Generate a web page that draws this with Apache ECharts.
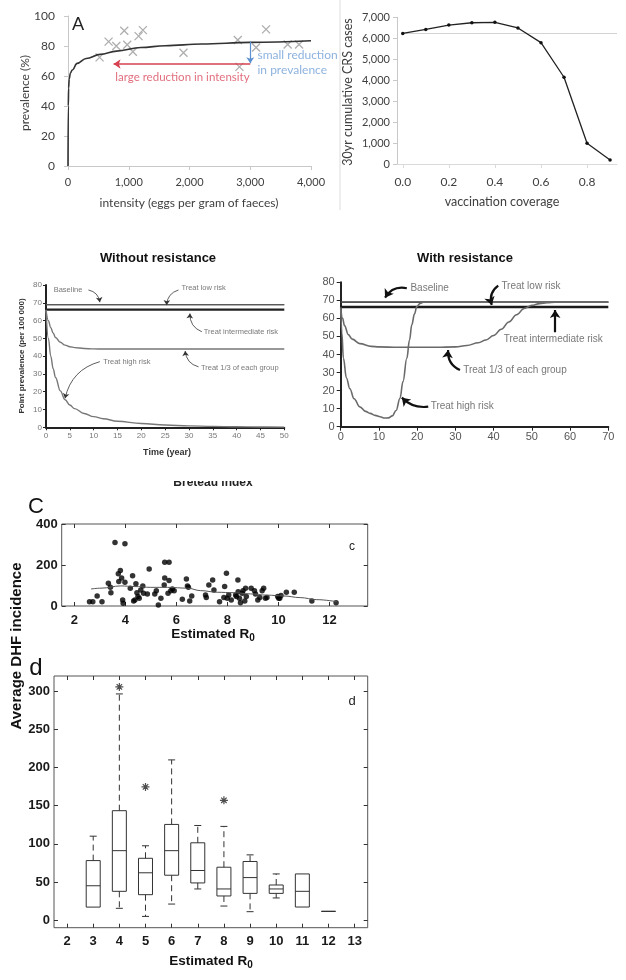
<!DOCTYPE html>
<html><head><meta charset="utf-8">
<script src="https://cdn.jsdelivr.net/npm/echarts@6/dist/echarts.min.js"></script>
<style>html,body{margin:0;padding:0;background:#fff}#c{width:626px;height:980px}</style>
</head><body><div id="c"></div>
<script>
// ---------- Panel A : prevalence vs intensity ----------
const aPointsX = [520,668,795,926,975,1068,1162,1233,1901,2795,2822,3096,3260,3616,3803];
const aPointsY = [72.4,82.9,80,90.2,80.8,76.2,86.6,90.6,75.5,84,66.1,79,91.1,81,81];
const aCurveX = [0,5,10,20,40,70,150,300,530,800,1200,1600,2200,3000,4000];
const aCurveY = [0,40,52,58,62,64,68.4,71.7,74.4,76.6,79,80.2,81.3,82.4,83.5];
// ---------- Panel B : CRS cases vs coverage ----------
const bCoverage = [0,0.1,0.2,0.3,0.4,0.5,0.6,0.7,0.8,0.9];
const bCases = [6230,6420,6630,6740,6760,6490,5790,4140,990,190];
const bRef = 6230;
// ---------- Without resistance ----------
const woLevelT = [0,50];
const woBaseline = [69,69];
const woLowRisk = [68.8,68.8];
const woInterRisk = [66.2,66.2];
const woT = [0,0.5,1,1.5,2,3,4,5,6,8,10,12,15,20,25,30,35,40,45,50];
const woThird = [66,60,56,53,50.5,47.8,46.2,45.3,44.8,44.3,44.1,44,44,44,44,44,44,44,44,44];
const woHigh = [66,50,40,33,28,20.5,15.5,12.5,10.5,7.8,6,4.8,3.4,2.1,1.3,0.8,0.5,0.3,0.2,0.1];
// ---------- With resistance ----------
const wLevelT = [0,70];
const wBaseline = [69.2,69.2];
const wLowRisk = [68.9,68.9];
const wInterRisk = [66.3,66.3];
const wThirdT = [0,0.5,1,2,3,5,8,10,15,20,25,30,33,36,38,40,42,44,46,48,50,52,54,56,60,70];
const wThird = [66,60,56,51,48.5,46,44.5,44.2,44,44,44,44.2,45,46.5,48,50.5,54,58,62,65.5,67.2,68.2,68.7,69,69,69];
const wHighT = [0,0.3,0.7,1.5,2.4,3.5,5,6.5,7.7,9,10.3,11.5,12.5,13.5,14.5,15.5,16.3,17.3,18,18.6,19.3,19.9,20.8,21.6,23,25,70];
const wHigh = [66,52,38,27,21,15.5,11,8.5,7.4,6.3,5.5,4.8,4.9,6,9,15.7,25,37.9,48,56.4,62.5,66.5,68.3,69,69,69,69];
// ---------- Panel c : scatter ----------
const cR0 = [2.59,2.72,2.89,3.08,3.33,3.41,3.43,3.59,3.72,3.80,3.74,3.85,3.89,3.91,3.98,3.98,4.19,4.28,4.32,4.37,4.41,4.45,4.49,4.54,4.60,4.68,4.71,4.86,4.93,5.15,5.21,5.29,5.39,5.52,5.54,5.54,5.71,5.71,5.67,5.78,5.84,5.91,6.23,6.39,6.43,6.47,6.52,6.60,7.14,7.17,7.27,7.42,7.47,7.69,7.86,7.89,7.96,7.99,8.05,8.15,8.32,8.35,8.41,8.42,8.47,8.51,8.58,8.61,8.68,8.71,8.74,8.93,9.06,9.10,9.19,9.27,9.36,9.42,9.49,9.55,9.97,10.01,10.05,10.10,10.31,10.62,11.31,12.26];
const cInc = [21,21,49,21,111,91,65,310,157,173,119,136,29,13,116,304,87,147,24,29,108,65,46,38,78,98,62,59,181,59,75,5,38,103,214,136,214,124,62,75,83,75,33,132,98,91,24,49,54,42,103,127,78,21,42,95,160,38,54,29,54,46,127,70,38,16,62,75,24,87,46,87,75,59,29,42,75,87,38,42,46,38,38,51,67,67,24,16];
const cFitX = [2.65,3.04,3.82,4.34,4.99,5.65,6.43,6.95,7.6,8.25,8.9,9.55,10.2,10.85,11.5,12.29];
const cFitY = [83,87,98,95,91,91,87,75,67,65,59,53,49,41,31,21];
const cTicksX = [2,4,6,8,10,12];
const cTicksY = [0,200,400];
// ---------- Panel d : boxplots ----------
const dR0 = [3,4,5,6,7,8,9,10,11,12];
const dLow = [17,15.4,4.8,21,40.8,18.4,11,29,17.1,11.4];
const dQ1 = [17,37.7,33.3,58.8,48.7,31.6,35,35,17.1,11.4];
const dMed = [45,91,62,91,65,40.8,55.7,40.8,37.7,11.4];
const dQ3 = [78,143.4,81,125.4,101.3,69.3,76.8,46,60.5,11.4];
const dHigh = [110,296.5,97.4,210,124,122.8,85.5,60.5,60.5,11.4];
const dOutR0 = [4,5,8];
const dOutVal = [305.7,174.6,157];
const dTicksX = [2,3,4,5,6,7,8,9,10,11,12,13];
const dTicksY = [0,50,100,150,200,250,300];

const zip = (a,b) => a.map((v,i)=>[v,b[i]]);
const FL = "Lato, 'Noto Sans', sans-serif";
const FA = "'Liberation Sans', Arial, sans-serif";
const FN = "'Liberation Sans Narrow', 'Liberation Sans', Arial, sans-serif";

function labels(xi, yi, items, style) {
  return {type:'scatter', xAxisIndex:xi, yAxisIndex:yi, symbolSize:1, itemStyle:{color:'rgba(0,0,0,0)'},
    silent:true, z:10, clip:false,
    label:Object.assign({show:true, position:'right', distance:0, formatter:p=>p.data.name}, style),
    data: items.map(it=>({name:it[0], value:[it[1], it[2]]}))};
}
function arrows(xi, yi, items, color, width, size) {
  return {type:'lines', coordinateSystem:'cartesian2d', xAxisIndex:xi, yAxisIndex:yi, silent:true, z:9,
    symbol:['none','arrow'], symbolSize:size, lineStyle:{color:color, width:width, opacity:1},
    data: items.map(a=>({coords:[[a[0],a[1]],[a[2],a[3]]], lineStyle:{curveness:a[4]}}))};
}
function lineS(xi, yi, data, color, width, smooth) {
  return {type:'line', xAxisIndex:xi, yAxisIndex:yi, data:data, showSymbol:false, symbol:'none',
    smooth:smooth||false, smoothMonotone:'x', lineStyle:{color:color, width:width}, silent:true};
}

const excelAxis = (extra) => Object.assign({
  type:'value', axisLine:{show:true, onZero:false, lineStyle:{color:'#c8c8c8'}},
  axisTick:{show:true, length:4, lineStyle:{color:'#c8c8c8'}},
  splitLine:{show:false}}, extra);
const blackAxis = (extra) => Object.assign({
  type:'value', axisLine:{show:true, onZero:false, lineStyle:{color:'#222', width:2}},
  axisTick:{show:true, length:3, lineStyle:{color:'#222', width:1}},
  splitLine:{show:false}}, extra);
const boxAxis = (extra) => Object.assign({
  type:'value', axisLine:{show:false, onZero:false},
  axisTick:{show:true, inside:true, length:4, lineStyle:{color:'#333'}},
  splitLine:{show:false}}, extra);
const boldLbl = (vals, margin) => ({show:true, customValues:vals, margin:margin, fontFamily:FN, fontWeight:'bold', fontSize:13, color:'#1a1a1a'});

function renderBox(params, api) {
  const x = api.value(0);
  const lo = api.value(1), q1 = api.value(2), md = api.value(3), q3 = api.value(4), hi = api.value(5);
  const pLo = api.coord([x, lo]), pQ1 = api.coord([x, q1]), pMd = api.coord([x, md]), pQ3 = api.coord([x, q3]), pHi = api.coord([x, hi]);
  const hw = 7, cw = 3.5, cx = pMd[0];
  const st = {stroke:'#333', lineWidth:1, fill:null};
  const dash = {stroke:'#333', lineWidth:1, lineDash:[6,4], fill:null};
  const ch = [
    {type:'rect', shape:{x:cx-hw, y:pQ3[1], width:2*hw, height:Math.max(pQ1[1]-pQ3[1],0.01)}, style:st},
    {type:'line', shape:{x1:cx-hw, y1:pMd[1], x2:cx+hw, y2:pMd[1]}, style:st}
  ];
  if (hi > q3) {
    ch.push({type:'line', shape:{x1:cx, y1:pQ3[1], x2:cx, y2:pHi[1]}, style:dash});
    ch.push({type:'line', shape:{x1:cx-cw, y1:pHi[1], x2:cx+cw, y2:pHi[1]}, style:st});
  }
  if (lo < q1) {
    ch.push({type:'line', shape:{x1:cx, y1:pQ1[1], x2:cx, y2:pLo[1]}, style:dash});
    ch.push({type:'line', shape:{x1:cx-cw, y1:pLo[1], x2:cx+cw, y2:pLo[1]}, style:st});
  }
  return {type:'group', children:ch};
}

const rot = Math.PI/2;
function gText(text, x, y, font, fill, rotation) {
  return {type:'text', x:x, y:y, rotation:rotation||0, silent:true, z:20,
    style:{text:text, font:font, fill:fill||'#333', align:'center', verticalAlign:'middle', textAlign:'center', textVerticalAlign:'middle'}};
}

const option = {
  animation:false,
  backgroundColor:'#fff',
  grid:[
    {left:68, top:16, width:243, height:150},
    {left:397, top:17.3, width:220, height:146.7},
    {left:46, top:285, width:238.3, height:142.3},
    {left:340.7, top:282.3, width:267.6, height:144.4},
    {left:61.7, top:524, width:306, height:82, show:true, borderColor:'#555', borderWidth:1},
    {left:54, top:676, width:313.7, height:251.7, show:true, borderColor:'#555', borderWidth:1}
  ].map(g=>Object.assign({outerBoundsMode:'none', containLabel:false}, g)),
  xAxis:[
    excelAxis({gridIndex:0, min:0, max:4000, interval:1000,
      axisLabel:{margin:11, fontSize:11, fontFamily:FL, color:'#404040', formatter:v=>v.toLocaleString('en-US')}}),
    excelAxis({gridIndex:1, min:-0.025, max:0.93, axisLine:{show:true, onZero:false, lineStyle:{color:'#dadada'}},
      axisTick:{show:true, length:4, customValues:[0,0.2,0.4,0.6,0.8], lineStyle:{color:'#dadada'}},
      axisLabel:{customValues:[0,0.2,0.4,0.6,0.8], margin:12, fontSize:12, fontFamily:FL, color:'#404040', formatter:v=>v.toFixed(1)}}),
    blackAxis({gridIndex:2, min:0, max:50, interval:5,
      axisLabel:{margin:4, fontSize:8, fontFamily:FA, color:'#777'}}),
    blackAxis({gridIndex:3, min:0, max:70, interval:10, axisTick:{show:true, length:4, lineStyle:{color:'#222'}},
      axisLabel:{margin:5, fontSize:11, fontFamily:FA, color:'#555'}}),
    boxAxis({gridIndex:4, min:1.5, max:13.5, axisTick:{show:true, inside:true, length:4, customValues:cTicksX, lineStyle:{color:'#333'}},
      axisLabel:boldLbl(cTicksX, 8)}),
    boxAxis({gridIndex:4, position:'top', min:1.5, max:13.5, axisTick:{show:true, inside:true, length:4, customValues:cTicksX, lineStyle:{color:'#333'}},
      axisLabel:{show:false}}),
    boxAxis({gridIndex:5, min:1.5, max:13.5, axisTick:{show:true, inside:true, length:4, customValues:dTicksX, lineStyle:{color:'#333'}},
      axisLabel:boldLbl(dTicksX, 7)}),
    boxAxis({gridIndex:5, position:'top', min:1.5, max:13.5, axisTick:{show:true, inside:true, length:4, customValues:dTicksX, lineStyle:{color:'#333'}},
      axisLabel:{show:false}})
  ],
  yAxis:[
    excelAxis({gridIndex:0, min:0, max:100, interval:20,
      axisLabel:{margin:13, fontSize:12, fontFamily:FL, color:'#404040'}}),
    excelAxis({gridIndex:1, min:0, max:7000, interval:1000,
      axisLabel:{margin:7, fontSize:11, fontFamily:FL, color:'#404040', formatter:v=>v.toLocaleString('en-US')}}),
    blackAxis({gridIndex:2, min:0, max:80, interval:10,
      axisLabel:{margin:4, fontSize:8, fontFamily:FA, color:'#777'}}),
    blackAxis({gridIndex:3, min:0, max:80, interval:10, axisTick:{show:true, length:4, lineStyle:{color:'#222'}},
      axisLabel:{margin:6, fontSize:11, fontFamily:FA, color:'#555'}}),
    boxAxis({gridIndex:4, min:0, max:400, axisTick:{show:true, inside:true, length:4, customValues:cTicksY, lineStyle:{color:'#333'}},
      axisLabel:boldLbl(cTicksY, 4)}),
    boxAxis({gridIndex:4, position:'right', min:0, max:400, axisTick:{show:true, inside:true, length:4, customValues:cTicksY, lineStyle:{color:'#333'}},
      axisLabel:{show:false}}),
    boxAxis({gridIndex:5, min:-10, max:320, axisTick:{show:true, inside:true, length:4, customValues:dTicksY, lineStyle:{color:'#333'}},
      axisLabel:boldLbl(dTicksY, 4)}),
    boxAxis({gridIndex:5, position:'right', min:-10, max:320, axisTick:{show:true, inside:true, length:4, customValues:dTicksY, lineStyle:{color:'#333'}},
      axisLabel:{show:false}})
  ],
  series:[
    // Panel A
    {type:'scatter', xAxisIndex:0, yAxisIndex:0, data:zip(aPointsX, aPointsY), symbol:'path://M0,0L10,10M10,0L0,10',
      symbolSize:8, itemStyle:{color:'none', borderColor:'#9a9a9a', borderWidth:1.3}, silent:true},
    lineS(0, 0, zip(aCurveX, aCurveY), '#333', 1.6, 0.4),
    arrows(0, 0, [[3000,68,750,68,0]], '#d6404f', 1.5, 7),
    arrows(0, 0, [[3000,83,3000,68.5,0]], '#5b8fd0', 1.2, 6),
    labels(0, 0, [['large reduction in intensity',770,59.3]], {color:'#d94a5c', fontSize:11.5, fontFamily:FL}),
    labels(0, 0, [['small reduction',3111,74],['in prevalence',3111,64]], {color:'#6f9fd6', fontSize:12, fontFamily:FL}),
    // Panel B
    {type:'line', xAxisIndex:1, yAxisIndex:1, data:zip(bCoverage, bCases), symbol:'circle', symbolSize:3.5,
      itemStyle:{color:'#111'}, lineStyle:{color:'#222', width:1.3}, silent:true, z:3,
      markLine:{silent:true, symbol:'none', label:{show:false}, lineStyle:{color:'#d3d3d3', type:'solid', width:1}, z:1,
        data:[[{coord:[0,bRef]},{coord:[0.93,bRef]}]]}},
    // Without resistance
    lineS(2, 2, zip(woLevelT, woBaseline), '#555', 1),
    lineS(2, 2, zip(woLevelT, woLowRisk), '#555', 1),
    lineS(2, 2, zip(woLevelT, woInterRisk), '#222', 2.2),
    lineS(2, 2, zip(woT, woThird), '#777', 1.4, 0.4),
    lineS(2, 2, zip(woT, woHigh), '#777', 1.4, 0.4),
    arrows(2, 2, [[8.9,77.2,11.3,70.3,0.35],[27.8,77.2,25.3,68.7,-0.35],[32.7,53.7,30.2,64,0.35],[32,34,29.2,42.9,0.35],[11.3,36.9,4,16.3,-0.3]], '#333', 0.8, 5),
    labels(2, 2, [['Baseline',1.5,77.2],['Treat low risk',28.3,78.3],['Treat intermediate risk',33,53.6],['Treat 1/3 of each group',32.4,33.6],['Treat high risk',11.9,36.9]],
      {color:'#555', fontSize:7.5, fontFamily:FA}),
    // With resistance
    lineS(3, 3, zip(wLevelT, wBaseline), '#444', 1.2),
    lineS(3, 3, zip(wLevelT, wLowRisk), '#444', 1),
    lineS(3, 3, zip(wLevelT, wInterRisk), '#1a1a1a', 2.6),
    lineS(3, 3, zip(wThirdT, wThird), '#6a6a6a', 1.6, 0.4),
    lineS(3, 3, zip(wHighT, wHigh), '#6a6a6a', 1.6, 0.4),
    arrows(3, 3, [[17.3,76.7,11.6,71.5,-0.35],[41.2,78.1,39.5,67.4,-0.35],[56.1,52.3,56.1,64.6,0],[31.2,31.4,28.1,42.5,0.35],[22.9,11.1,16,16.1,0.25]], '#111', 2.2, 8),
    labels(3, 3, [['Baseline',18.1,76.7],['Treat low risk',41.9,77.6],['Treat intermediate risk',42.5,48.6],['Treat 1/3 of each group',31.9,31.4],['Treat high risk',23.4,11.1]],
      {color:'#555', fontSize:10, fontFamily:FA}),
    // Panel c
    {type:'scatter', xAxisIndex:4, yAxisIndex:4, data:zip(cR0, cInc), symbol:'circle', symbolSize:5.5, itemStyle:{color:'#000'}, silent:true},
    lineS(4, 4, zip(cFitX, cFitY), '#555', 1, 0.4),
    // Panel d
    {type:'custom', xAxisIndex:6, yAxisIndex:6, renderItem:renderBox, silent:true,
      encode:{x:0, y:[1,2,3,4,5]},
      data:dR0.map((r,i)=>[r, dLow[i], dQ1[i], dMed[i], dQ3[i], dHigh[i]])},
    {type:'scatter', xAxisIndex:6, yAxisIndex:6, data:zip(dOutR0, dOutVal),
      symbol:'path://M5,0L5,10M0,5L10,5M1.6,1.6L8.4,8.4M8.4,1.6L1.6,8.4', symbolSize:8,
      itemStyle:{color:'none', borderColor:'#222', borderWidth:1.2}, silent:true}
  ],
  graphic:[
    {type:'line', silent:true, shape:{x1:340, y1:0, x2:340, y2:210}, style:{stroke:'#dcdcdc', lineWidth:1}},
    gText('A', 78, 24, '18px '+FL, '#222'),
    gText('prevalence (%)', 25, 93, '12px '+FL, '#404040', rot),
    gText('intensity (eggs per gram of faeces)', 189, 203, '12px '+FL, '#404040'),
    gText('30yr cumulative CRS cases', 348, 92, '12.5px '+FL, '#404040', rot),
    gText('vaccination coverage', 502, 202, '12.5px '+FL, '#404040'),
    gText('Without resistance', 158, 258, 'bold 13px '+FA, '#111'),
    gText('With resistance', 465, 258, 'bold 13px '+FA, '#111'),
    gText('Point prevalence (per 100 000)', 22, 356, 'bold 8px '+FA, '#333', rot),
    gText('Time (year)', 167, 453, 'bold 9px '+FA, '#333'),
    gText('Breteau index', 213, 483, 'bold 12px '+FA, '#222'),
    {type:'rect', silent:true, z:30, shape:{x:150, y:462, width:130, height:19}, style:{fill:'#fff'}},
    gText('C', 36, 507, '22px '+FN, '#111'),
    gText('c', 352, 547, '12px '+FA, '#222'),
    gText('d', 36, 668, '24px '+FN, '#111'),
    gText('d', 352, 701, '13px '+FA, '#222'),
    gText('Average DHF incidence', 17, 646, 'bold 15px '+FA, '#111', rot),
    {type:'text', x:213, y:634, silent:true, z:20, style:{text:'{a|Estimated R}{b|0}', align:'center', verticalAlign:'middle', textAlign:'center', textVerticalAlign:'middle',
      rich:{a:{font:'bold 13.5px '+FA, fill:'#111', color:'#111'}, b:{font:'bold 10px '+FA, fill:'#111', color:'#111', padding:[8,0,0,0]}}}},
    {type:'text', x:211, y:961, silent:true, z:20, style:{text:'{a|Estimated R}{b|0}', align:'center', verticalAlign:'middle', textAlign:'center', textVerticalAlign:'middle',
      rich:{a:{font:'bold 13.5px '+FA, fill:'#111', color:'#111'}, b:{font:'bold 10px '+FA, fill:'#111', color:'#111', padding:[8,0,0,0]}}}}
  ]
};
const chart = echarts.init(document.getElementById('c'));
chart.setOption(option);
</script>
</body></html>
